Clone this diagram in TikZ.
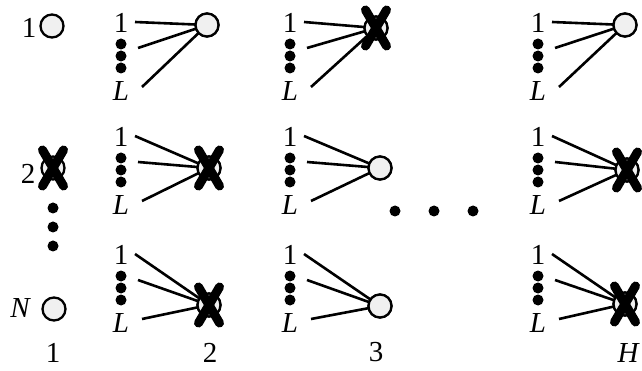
\documentclass[tikz,border=0pt]{standalone}
\usepackage{fontspec}
\setmainfont{Liberation Serif}
\newcommand\killmark[1]{\draw[xline] ([shift={(-10.5,-18)}]#1.center) -- ([shift={(10.5,18)}]#1.center) ([shift={(10.5,-18)}]#1.center) -- ([shift={(-10.5,18)}]#1.center);}
\begin{document}
\begin{tikzpicture}[x=1pt,y=-1pt,
  lbl/.style={font=\fontsize{29}{29}\selectfont, inner sep=0pt},
  ilbl/.style={lbl, font=\fontsize{29}{29}\selectfont\itshape},
  unit/.style={circle, draw, line width=2.3pt, fill=gray!12, minimum size=23pt, inner sep=0pt},
  bigdot/.style={circle, fill=black, minimum size=11pt, inner sep=0pt},
  conn/.style={line width=2.6pt},
  xline/.style={line width=9pt, line cap=round}]
\useasboundingbox (0,0) rectangle (642,371);
% column 1
\node[unit] (u11) at (52,26) {};
\node[lbl] (l11) at (29,28) {1};
\node[unit] (u12) at (53,168) {};
\killmark{u12}
\node[lbl] (l12) at (28,174) {2};
\node[bigdot] (d1) at (53,208) {};
\node[bigdot] (d2) at (53,227) {};
\node[bigdot] (d3) at (53,246) {};
\node[unit] (u13) at (54,309) {};
\node[ilbl] (l13) at (20,308) {N};
% groups
\foreach \nm/\lx/\ty/\nx/\ny/\dead in {
  a/121/23/207/25/0, b/121/137/209/168/1, c/121/255/209/305/1,
  d/290/23/376/28/1, e/290/137/380/168/0, f/290/255/380/306/0,
  g/538/23/625/25/0, h/538/137/627/170/1, i/538/255/625/304/1}{
  \node[lbl] (\nm one) at (\lx,\ty) {1};
  \node[bigdot] (\nm d1) at (\lx,\ty+21) {};
  \node[bigdot] (\nm d2) at (\lx,\ty+33) {};
  \node[bigdot] (\nm d3) at (\lx,\ty+45) {};
  \node[ilbl] (\nm L) at (\lx,\ty+68) {L};
  \coordinate (\nm s1) at (\lx+14,\ty-1);
  \coordinate (\nm s2) at (\lx+17,\ty+25);
  \coordinate (\nm s3) at (\lx+21,\ty+64);
  \node[unit] (\nm u) at (\nx,\ny) {};
  \draw[conn] (\nm s1) -- (\nm u.center);
  \draw[conn] (\nm s2) -- (\nm u.center);
  \draw[conn] (\nm s3) -- (\nm u.center);
  \node[unit] at (\nm u) {};
  \ifnum\dead=1 \killmark{\nm u}\fi
}
% ellipsis
\node[bigdot] (e1) at (395,211) {};
\node[bigdot] (e2) at (434,211) {};
\node[bigdot] (e3) at (473,211) {};
% column labels
\node[lbl] (c1) at (53,353) {1};
\node[lbl] (c2) at (210,353) {2};
\node[lbl] (c3) at (376,352) {3};
\node[ilbl] (cH) at (628,353) {H};
\end{tikzpicture}
\end{document}
